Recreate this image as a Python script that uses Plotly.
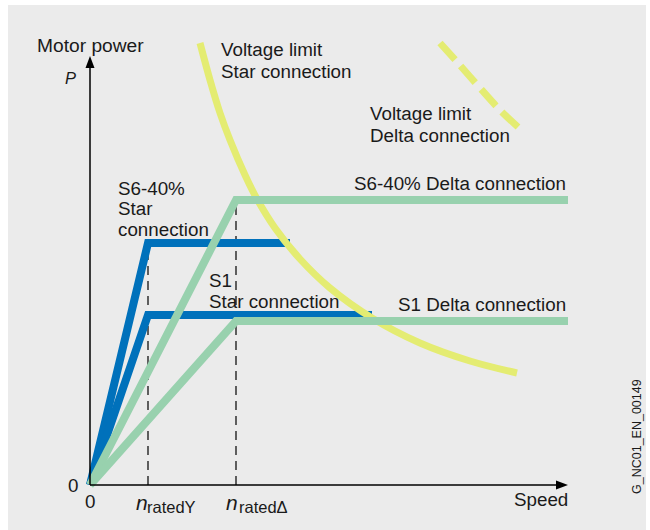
import plotly.graph_objects as go

# ---- data (speed / power in schematic units; origin at 0,0) ----
n_rated_star = 58
n_rated_delta = 146
n_max = 478

s6_star_x = [0, n_rated_star, 200]
s6_star_p = [0, 242, 242]
s1_star_x = [0, n_rated_star, 282]
s1_star_p = [0, 170, 170]
s6_delta_x = [0, n_rated_delta, n_max]
s6_delta_p = [0, 285, 285]
s1_delta_x = [0, n_rated_delta, n_max]
s1_delta_p = [0, 164, 164]

vlim_star_x = [110, 120, 130, 140, 155, 167, 185, 210, 240, 282, 330, 380, 427]
vlim_star_p = [442, 405, 372, 345, 310, 286, 257, 226, 197, 167, 142, 124, 112]
vlim_delta_x = [350, 368, 390, 410, 428]
vlim_delta_p = [442, 422, 397, 375, 358]

BLUE = "#0071BB"
GREEN = "#98D1AE"
YELLOW = "#E4EC72"
BG = "#EBEBEB"
TXT = "#1A1A1A"
FONT = "Liberation Sans, Arial, sans-serif"
FS = 18.8

fig = go.Figure()

def line(x, y, color, width, dash=None, shape="linear"):
    fig.add_trace(go.Scatter(x=x, y=y, mode="lines", hoverinfo="skip",
                             line=dict(color=color, width=width, dash=dash, shape=shape,
                                       smoothing=1.0 if shape == "spline" else None)))

line(s6_star_x, s6_star_p, BLUE, 8)
line(s1_star_x, s1_star_p, BLUE, 8)
line(vlim_star_x, vlim_star_p, YELLOW, 7, shape="spline")
line(vlim_delta_x, vlim_delta_p, YELLOW, 7, dash="22px,9px", shape="spline")
line(s6_delta_x, s6_delta_p, GREEN, 8)
line(s1_delta_x, s1_delta_p, GREEN, 8)

shapes = [
    dict(type="rect", xref="paper", yref="paper", x0=8/650, x1=646/650, y0=0, y1=1-5/530,
         fillcolor=BG, line=dict(width=0), layer="below"),
    dict(type="line", x0=n_rated_star, x1=n_rated_star, y0=0, y1=240,
         line=dict(color="black", width=1.2, dash="9px,6px"), layer="below"),
    dict(type="line", x0=n_rated_delta, x1=n_rated_delta, y0=0, y1=285,
         line=dict(color="black", width=1.2, dash="9px,6px"), layer="below"),
    # axes
    dict(type="line", x0=0, x1=0, y0=0, y1=420, line=dict(color="black", width=1.5)),
    dict(type="line", x0=0, x1=468, y0=0, y1=0, line=dict(color="black", width=1.5)),
    dict(type="path", path="M -4.5,417 L 4.5,417 L 0,429 Z", fillcolor="black", line=dict(width=0)),
    dict(type="path", path=f"M 466,-4.5 L 466,4.5 L {n_max},0 Z", fillcolor="black", line=dict(width=0)),
]

def px(x):
    return x - 90

def py(y):
    return 485 - y

anns = []

def text(t, x, y, anchor="left", size=FS, angle=0):
    anns.append(dict(text=t, x=px(x), y=py(y), xref="x", yref="y", showarrow=False,
                     xanchor=anchor, yanchor="middle", textangle=angle,
                     font=dict(family=FONT, size=size, color=TXT), borderpad=0))

text("Motor power", 36, 45, size=19.2)
text("<i>P</i>", 64, 78, size=16.5)
text("Voltage limit", 220, 49)
text("Star connection", 220, 71)
text("Voltage limit", 369, 113)
text("Delta connection", 369, 135)
text("S6-40%", 117, 188)
text("Star", 117, 208)
text("connection", 117, 229)
text("S6-40% Delta connection", 567, 183, anchor="right")
text("S1", 208, 280)
text("Star connection", 208, 301)
text("S1 Delta connection", 567, 304, anchor="right")
text("0", 79, 485, anchor="right")
text("0", 90, 501, anchor="center")
text("<i>n</i>", 135, 502, size=21)
text("ratedY", 146, 507, size=16.5)
text("<i>n</i>", 225, 502, size=21)
text("ratedΔ", 238, 507, size=16.5)
text("Speed", 569, 499, anchor="right")
text("G_NC01_EN_00149", 637, 437, anchor="center", size=12.5, angle=-90)

fig.update_layout(
    width=650, height=530,
    margin=dict(l=0, r=0, t=0, b=0),
    paper_bgcolor="white", plot_bgcolor="rgba(0,0,0,0)",
    showlegend=False,
    xaxis=dict(range=[-90, 560], visible=False, fixedrange=True),
    yaxis=dict(range=[-45, 485], visible=False, fixedrange=True),
    shapes=shapes, annotations=anns,
)

fig.write_html("out.html", config=dict(displayModeBar=False),
               post_script="document.body.style.margin='0';document.body.style.overflow='hidden';")
